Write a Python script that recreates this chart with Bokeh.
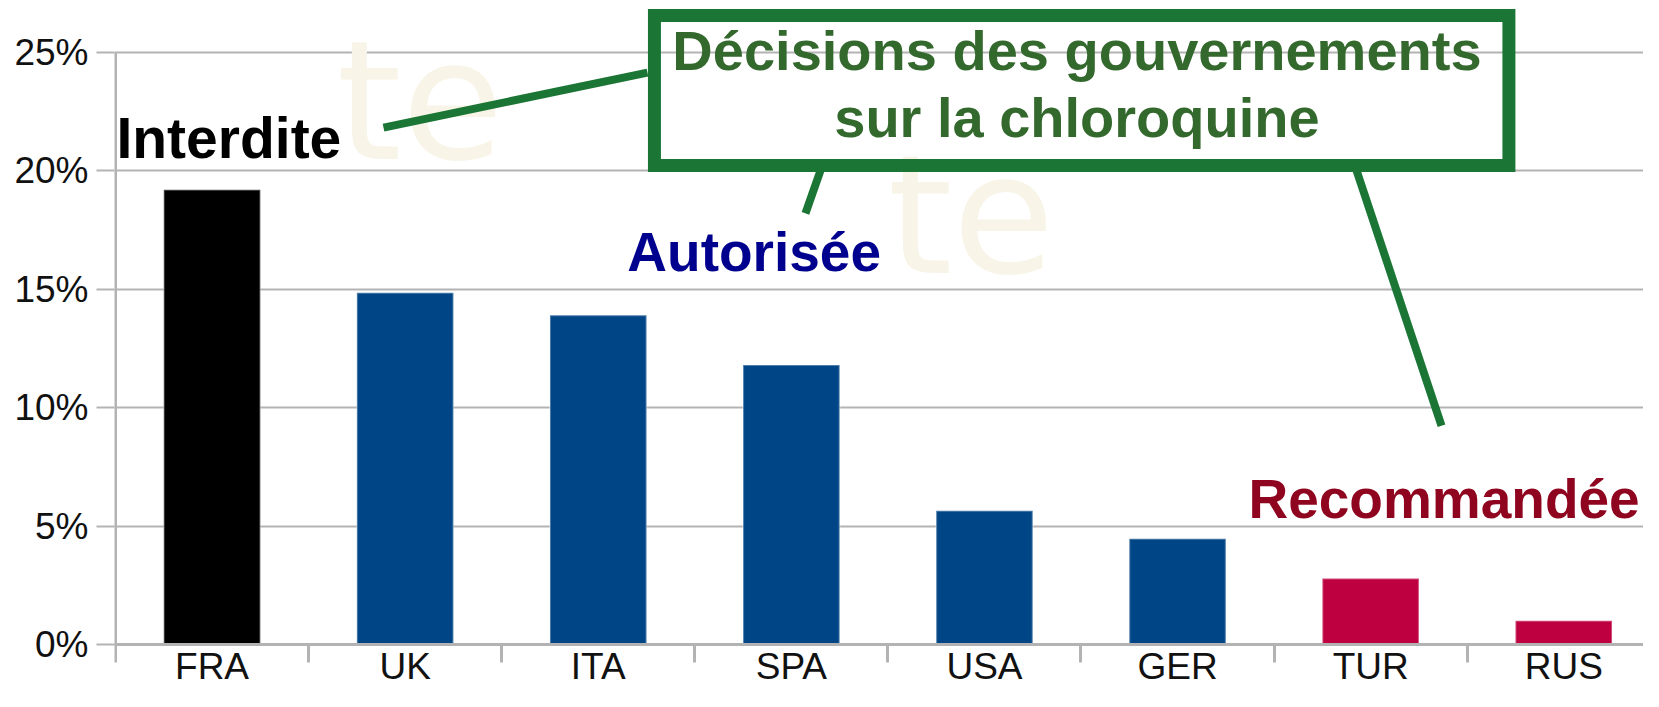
from bokeh.plotting import figure
from bokeh.models import (Range1d, FixedTicker, NumeralTickFormatter, Label,
                          ColumnDataSource)
from bokeh.core.properties import value
from bokeh.embed import file_html
from bokeh.resources import INLINE

# ---------------- data ----------------
countries = ["FRA", "UK", "ITA", "SPA", "USA", "GER", "TUR", "RUS"]
rates = [0.192, 0.1485, 0.139, 0.118, 0.0565, 0.0447, 0.028, 0.0101]
decision = ["Interdite", "Autorisée", "Autorisée", "Autorisée", "Autorisée",
            "Autorisée", "Recommandée", "Recommandée"]
y_ticks = [0, 0.05, 0.10, 0.15, 0.20, 0.25]

# ---------------- styles ----------------
bar_colors = {"Interdite": "#000000", "Autorisée": "#004586", "Recommandée": "#BE0040"}
GRID = "#b3b3b3"
GREEN = "#1b7535"
GREEN_TXT = "#34692e"

centers = [i + 0.5 for i in range(len(countries))]
src = ColumnDataSource(dict(
    x=centers, top=rates, name=countries,
    color=[bar_colors[d] for d in decision],
))

p = figure(width=1643, height=691, output_backend="svg", toolbar_location=None,
           x_range=Range1d(-0.00518, 7.913), y_range=Range1d(-0.0197, 0.27181),
           min_border_left=114, min_border_right=0, min_border_top=0,
           min_border_bottom=0, outline_line_color=None,
           background_fill_color="white", border_fill_color="white")

# watermark
p.text(x=[1.145, 3.998], y=[0.2292, 0.1813], text=["te", "te"],
       text_font=value("DejaVu Sans"), text_font_size="166px",
       text_color="#F8F5E8", text_baseline="middle", text_align="left")

# y axis line (only from 0 to 25%)
p.segment(x0=[0], y0=[0], x1=[0], y1=[y_ticks[-1]], line_color=GRID, line_width=3)

# bars
p.vbar(x="x", top="top", bottom=0, width=0.5, source=src,
       fill_color="color", line_color="white", line_alpha=0.3, line_width=2)

# x axis, drawn at the 0 line
xa = p.xaxis[0]
xa.fixed_location = 0
xa.ticker = FixedTicker(ticks=centers, minor_ticks=list(range(len(countries) + 1)))
xa.major_label_overrides = {c: n for c, n in zip(centers, countries)}
xa.major_tick_line_color = None
xa.major_tick_out = 0
xa.major_tick_in = 0
xa.minor_tick_out = 18
xa.minor_tick_in = 0
xa.minor_tick_line_color = GRID
xa.minor_tick_line_width = 3
xa.axis_line_color = GRID
xa.axis_line_width = 3
xa.major_label_standoff = -17
xa.major_label_text_font = "Liberation Sans"
xa.major_label_text_font_size = "37px"
xa.major_label_text_color = "#111111"

# y axis
ya = p.yaxis[0]
ya.ticker = FixedTicker(ticks=y_ticks)
ya.formatter = NumeralTickFormatter(format="0%")
ya.axis_line_color = None
ya.major_tick_out = 18
ya.major_tick_in = 0
ya.major_tick_line_color = GRID
ya.major_tick_line_width = 2
ya.minor_tick_line_color = None
ya.major_label_standoff = 8
ya.major_label_text_font = "Liberation Sans"
ya.major_label_text_font_size = "37px"
ya.major_label_text_color = "#111111"

p.xgrid.grid_line_color = None
p.ygrid.ticker = FixedTicker(ticks=y_ticks)
p.ygrid.grid_line_color = GRID
p.ygrid.grid_line_width = 2

# callout lines
p.segment(x0=[1.388, 3.651, 6.427], y0=[0.2182, 0.2001, 0.2001],
          x1=[2.755, 3.573, 6.867], y1=[0.2414, 0.1820, 0.0924],
          line_color=GREEN, line_width=8)

# title box (no fill)
p.quad(left=[2.791], right=[7.216], top=[0.2655], bottom=[0.2022],
       fill_color=None, line_color=GREEN, line_width=13, line_join="miter")

# title text
for txt, yy in [("Décisions des gouvernements", 0.2509), ("sur la chloroquine", 0.2223)]:
    p.add_layout(Label(x=4.979, y=yy, text=txt, text_font="Liberation Sans",
                       text_font_style="bold", text_font_size="56px",
                       text_color=GREEN_TXT, text_align="center",
                       text_baseline="middle"))

# decision labels
p.add_layout(Label(x=0.005, y=0.2138, text="Interdite", text_font="Liberation Sans",
                   text_font_style="bold", text_font_size="57px", text_color="#000000",
                   text_align="left", text_baseline="middle"))
p.add_layout(Label(x=3.3076, y=0.1657, text="Autorisée", text_font="Liberation Sans",
                   text_font_style="bold", text_font_size="55px", text_color="#00008f",
                   text_align="center", text_baseline="middle"))
p.add_layout(Label(x=5.867, y=0.0616, text="Recommandée", text_font="Liberation Sans",
                   text_font_style="bold", text_font_size="55px", text_color="#8f0520",
                   text_align="left", text_baseline="middle"))

open("out.html", "w").write(file_html(p, INLINE))
